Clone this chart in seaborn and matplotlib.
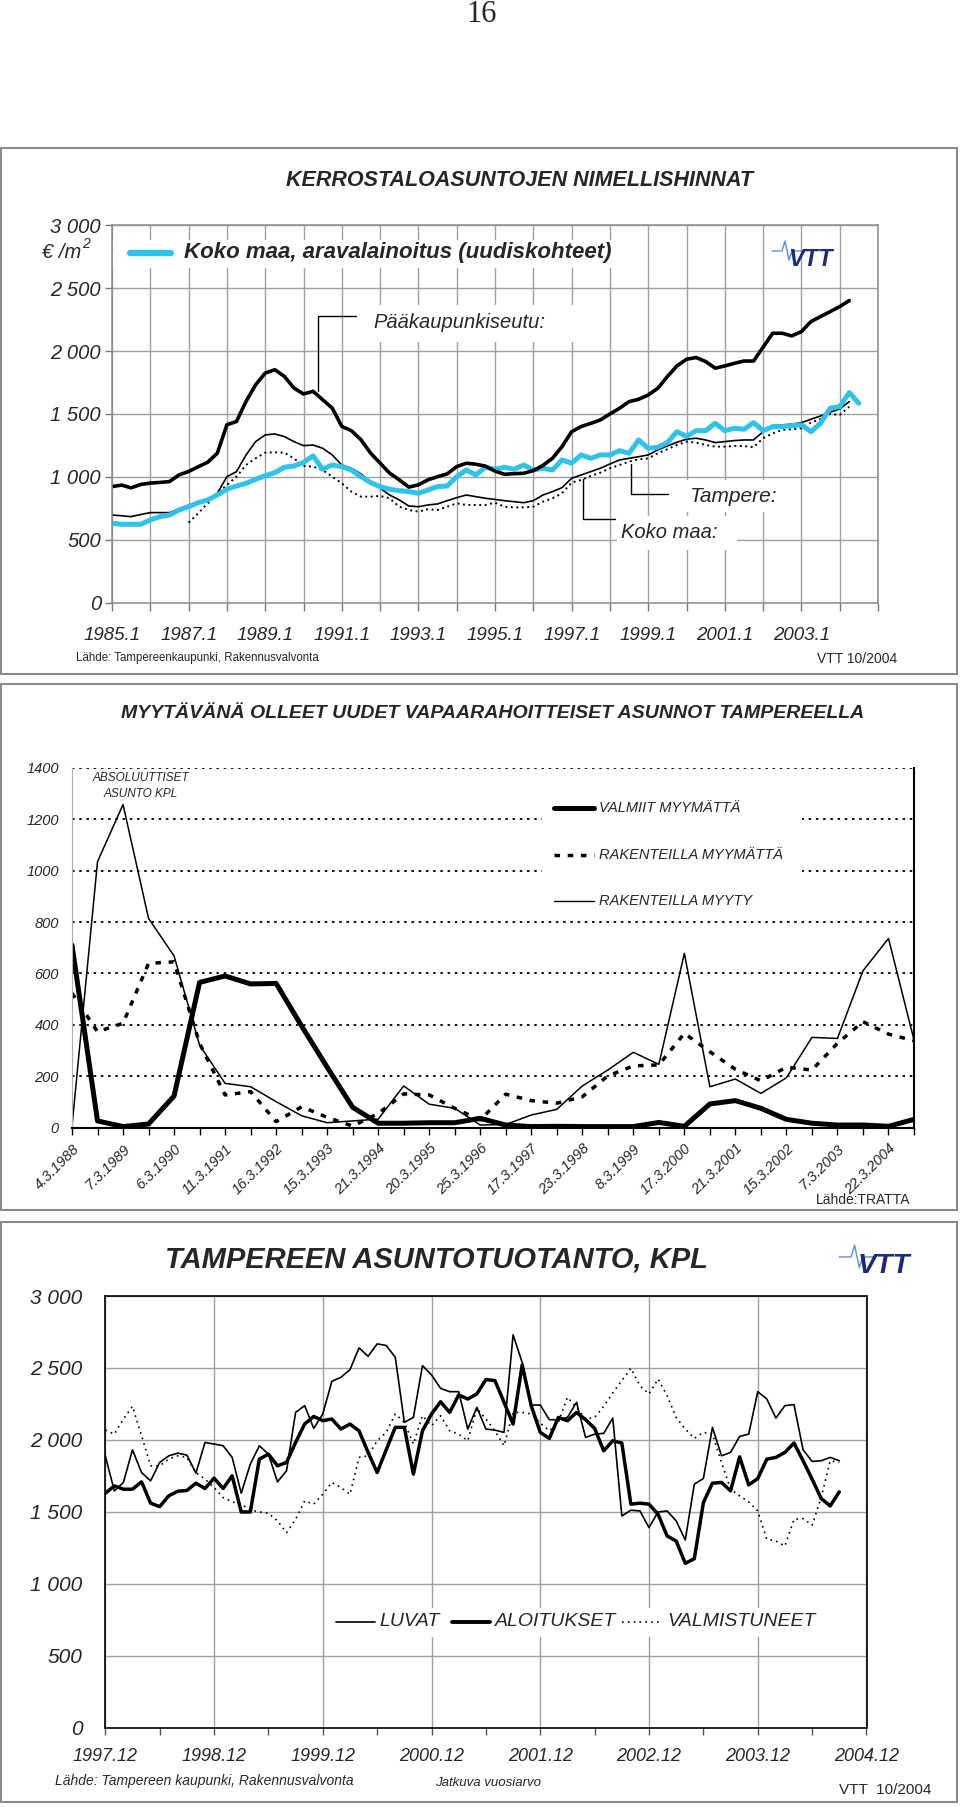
import matplotlib
matplotlib.use("Agg")
import matplotlib.pyplot as plt
import seaborn as sns
from matplotlib.lines import Line2D
from matplotlib.patches import Rectangle

# ---------------- top chart: quarterly prices, first quarter 1985.1 ----------------
pks_val = [922, 934, 912, 939, 950, 955, 962, 1015, 1042, 1080, 1116, 1188,
           1414, 1440, 1600, 1732, 1825, 1852, 1799, 1706, 1659, 1680, 1613, 1547,
           1401, 1367, 1295, 1189, 1109, 1029, 976, 918, 936, 976, 1001, 1023,
           1081, 1108, 1100, 1085, 1045, 1020, 1025, 1028, 1049, 1090, 1147, 1240,
           1359, 1400, 1425, 1452, 1500, 1545, 1598, 1617, 1651, 1704, 1797, 1882,
           1935, 1949, 1917, 1864, 1882, 1903, 1921, 1921, 2031, 2142, 2142, 2121,
           2155, 2235, 2275, 2314, 2354, 2402]
tre_val = [696, 690, 683, 700, 715, 715, 715, 745, 776, 800, 816, 869,
           1001, 1041, 1174, 1280, 1333, 1341, 1320, 1280, 1248, 1253, 1227, 1174,
           1094, 1068, 1023, 961, 909, 855, 816, 768, 762, 776, 784, 810,
           834, 855, 842, 829, 820, 810, 802, 794, 810, 855, 882, 914,
           988, 1015, 1041, 1068, 1102, 1134, 1147, 1160, 1174, 1214, 1245, 1275,
           1299, 1307, 1293, 1272, 1280, 1288, 1293, 1293, 1359, 1407, 1413, 1418,
           1431, 1458, 1484, 1513, 1540, 1598]
# Koko maa starts 1987.1
km_val = [635, 710, 789, 869, 935, 1001, 1094, 1147, 1192, 1195, 1192, 1147,
          1086, 1081, 1054, 1001, 948, 882, 842, 842, 848, 829, 762, 736,
          723, 742, 736, 762, 789, 776, 776, 776, 794, 762, 757, 757,
          762, 802, 829, 869, 954, 975, 1007, 1033, 1068, 1094, 1121, 1139,
          1147, 1187, 1219, 1253, 1280, 1272, 1253, 1240, 1240, 1245, 1245, 1235,
          1307, 1346, 1373, 1378, 1386, 1431, 1460, 1500, 1492, 1558]
ara_val = [630, 622, 622, 622, 657, 683, 696, 736, 762, 794, 816, 855,
           901, 927, 948, 980, 1009, 1033, 1076, 1086, 1113, 1166, 1060, 1094,
           1081, 1054, 1001, 954, 922, 901, 890, 882, 869, 895, 922, 927,
           1001, 1054, 1015, 1076, 1060, 1076, 1060, 1094, 1054, 1068, 1054, 1134,
           1108, 1174, 1147, 1174, 1174, 1208, 1187, 1293, 1227, 1235, 1272, 1359,
           1320, 1367, 1367, 1426, 1367, 1386, 1378, 1431, 1367, 1399, 1399, 1407,
           1413, 1359, 1426, 1545, 1558, 1670, 1585]
top_xlabels = ["1985.1", "1987.1", "1989.1", "1991.1", "1993.1",
               "1995.1", "1997.1", "1999.1", "2001.1", "2003.1"]
top_ylabels = ["0", "500", "1 000", "1 500", "2 000", "2 500", "3 000"]

# ---------------- middle chart: half-yearly counts ----------------
mid_dates = ["4.3.1988", "7.3.1989", "6.3.1990", "11.3.1991", "16.3.1992", "15.3.1993",
             "21.3.1994", "20.3.1995", "25.3.1996", "17.3.1997", "23.3.1998", "8.3.1999",
             "17.3.2000", "21.3.2001", "15.3.2002", "7.3.2003", "22.3.2004"]
valmiit = [710, 26, 4, 14, 123, 565, 590, 559, 561, 395, 235, 79, 17, 17, 19, 19, 36,
           10, 4, 5, 4, 4, 4, 20, 5, 92, 105, 75, 32, 17, 10, 10, 5, 32]
rak_myymatta = [523, 373, 406, 639, 645, 328, 127, 140, 23, 81, 40, 6, 55, 131, 127, 75, 30,
                130, 105, 95, 120, 201, 240, 244, 367, 295, 227, 182, 235, 224, 328, 412, 364, 338]
rak_myyty = [5, 1035, 1257, 814, 668, 321, 172, 159, 101, 46, 19, 26, 33, 162, 91, 75, 10,
             12, 49, 71, 162, 224, 293, 246, 678, 159, 189, 133, 194, 351, 347, 610, 736, 341]

# ---------------- bottom chart: monthly rolling annual values from 1997.12 ----------------
luvat = [1889, 1645, 1704, 1931, 1773, 1715, 1843, 1889, 1908, 1894,
         1769, 1982, 1971, 1959, 1878, 1629, 1831, 1959, 1901, 1708,
         1785, 2191, 2238, 2080, 2180, 2407, 2435, 2488, 2639, 2581,
         2667, 2656, 2574, 2122, 2156, 2516, 2451, 2358, 2335, 2335,
         2075, 2226, 2075, 2068, 2052, 2730, 2539, 2242, 2242, 2140,
         2140, 2156, 2261, 2017, 2040, 2045, 2152, 1471, 1511, 1506,
         1390, 1499, 1506, 1437, 1304, 1692, 1731, 2087, 1889, 1913,
         2024, 2040, 2335, 2284, 2152, 2238, 2245, 1931, 1850, 1855,
         1878, 1855]
aloitukset = [1629, 1680, 1657, 1657, 1708, 1560, 1536, 1611, 1643, 1648,
              1699, 1662, 1734, 1662, 1750, 1499, 1499, 1866, 1901, 1820,
              1843, 1982, 2110, 2163, 2133, 2145, 2075, 2110, 2063, 1913,
              1773, 1931, 2087, 2087, 1762, 2063, 2180, 2265, 2191, 2312,
              2284, 2319, 2419, 2412, 2261, 2110, 2521, 2238, 2052, 2010,
              2156, 2133, 2191, 2140, 2080, 1924, 1994, 1978, 1553, 1560,
              1553, 1483, 1332, 1297, 1142, 1174, 1564, 1699, 1704, 1646,
              1882, 1687, 1731, 1866, 1878, 1913, 1978, 1855, 1727, 1592,
              1541, 1639]
valmistuneet = [2068, 2040, 2145, 2233, 2029, 1820, 1820, 1866, 1889, 1878,
                1773, 1727, 1669, 1599, 1569, 1553, 1513, 1499, 1490, 1437,
                1355, 1448, 1576, 1553, 1622, 1704, 1669, 1622, 1878, 1889,
                1994, 2052, 2180, 2122, 1971, 2168, 2098, 2168, 2063, 2040,
                1994, 2219, 2145, 2063, 1959, 2191, 2191, 2180, 2117, 2063,
                2122, 2296, 2226, 2145, 2156, 2233, 2326, 2412, 2498, 2377,
                2319, 2423, 2307, 2156, 2075, 2010, 2052, 2040, 1843, 1657,
                1611, 1569, 1506, 1309, 1297, 1262, 1448, 1453, 1407, 1599,
                1855, 1843]
bot_xlabels = ["1997.12", "1998.12", "1999.12", "2000.12", "2001.12",
               "2002.12", "2003.12", "2004.12"]
bot_ylabels = ["0", "500", "1 000", "1 500", "2 000", "2 500", "3 000"]

sns.set_style("white")
plt.rcParams["font.family"] = ["Liberation Sans", "DejaVu Sans"]

W, H = 960, 1807
fig = plt.figure(figsize=(W / 100, H / 100), dpi=100)


def fx(x):
    return x / W


def fy(y):
    return 1 - y / H


def box(x0, y0, x1, y1):
    return [x0 / W, 1 - y1 / H, (x1 - x0) / W, (y1 - y0) / H]


def ftext(x, y, s, **kw):
    kw.setdefault("va", "center")
    kw.setdefault("zorder", 5)
    fig.text(fx(x), fy(y), s, **kw)


def fline(xs, ys, **kw):
    kw.setdefault("zorder", 5)
    fig.add_artist(Line2D([fx(v) for v in xs], [fy(v) for v in ys],
                          transform=fig.transFigure, **kw))


def frect(x0, y0, x1, y1, **kw):
    fig.add_artist(Rectangle((fx(x0), fy(y1)), (x1 - x0) / W, (y1 - y0) / H,
                             transform=fig.transFigure, **kw))


def vtt_logo(x, y, size):
    # small pulse line + VTT letters
    s = size / 17.0
    fline([x - 38 * s, x - 28 * s, x - 25 * s, x - 21 * s, x - 18 * s, x - 8 * s],
          [y - 6 * s, y - 6 * s, y - 16 * s, y + 3 * s, y - 6 * s, y - 6 * s],
          color="#5b8fd6", lw=1.0)
    ftext(x, y + 2 * s, "VTT", fontsize=size, weight="bold", style="italic",
          color="#1b2a7c", ha="center")


ftext(482, 15, "16", fontsize=22, family=["Liberation Serif", "DejaVu Serif"], ha="center")

# panel frames
for y0, y1 in [(147.5, 674), (684, 1210), (1222, 1802)]:
    frect(1, y0, 957, y1, fill=False, ec="#8a8a8a", lw=1.5, zorder=6)

# ======================= TOP =======================
ax1 = fig.add_axes(box(112, 225.4, 878, 602.5))
q = 0.25
sns.lineplot(x=[1987 + q * i for i in range(len(km_val))], y=km_val, ax=ax1,
             color="black", lw=1.4, linestyle=(0, (1, 1.8)), errorbar=None)
sns.lineplot(x=[1985 + q * i for i in range(len(tre_val))], y=tre_val, ax=ax1,
             color="black", lw=1.2, errorbar=None)
sns.lineplot(x=[1985 + q * i for i in range(len(ara_val))], y=ara_val, ax=ax1,
             color="#2fc3ea", lw=3.6, errorbar=None)
sns.lineplot(x=[1985 + q * i for i in range(len(pks_val))], y=pks_val, ax=ax1,
             color="black", lw=2.6, errorbar=None)
ax1.set_xlim(1985, 2005)
ax1.set_ylim(0, 3000)
ax1.set_xticks(range(1985, 2006))
ax1.set_xticklabels([top_xlabels[(y - 1985) // 2] if (y - 1985) % 2 == 0 and y <= 2003 else ""
                     for y in range(1985, 2006)])
ax1.set_yticks(range(0, 3001, 500))
ax1.set_yticklabels(top_ylabels)
ax1.grid(True, color="#a0a0a0", lw=1)
ax1.set_axisbelow(True)
ax1.set_xlabel("")
ax1.set_ylabel("")
ax1.tick_params(axis="x", bottom=True, length=6, width=1, color="#777777", pad=12, labelsize=13.5)
ax1.tick_params(axis="y", left=True, length=5, width=1, color="#777777", pad=3, labelsize=14.5)
for lab in ax1.get_xticklabels() + ax1.get_yticklabels():
    lab.set_fontstyle("italic")
for sp in ax1.spines.values():
    sp.set_color("#8a8a8a")
    sp.set_linewidth(1.1)

ftext(520, 180, "KERROSTALOASUNTOJEN NIMELLISHINNAT", fontsize=15.5, weight="bold",
      style="italic", ha="center")
frect(113, 240, 625, 268, fc="white", ec="none", zorder=4)
fline([130, 171], [253, 253], color="#2fc3ea", lw=4.5)
ftext(184, 253, "Koko maa, aravalainoitus (uudiskohteet)", fontsize=16, weight="bold",
      style="italic")
ftext(42, 253, "€ /m", fontsize=14.5, style="italic")
ftext(82, 244, "2", fontsize=10, style="italic")
vtt_logo(810, 257, 17)

frect(362, 305, 580, 342, fc="white", ec="none", zorder=4)
ftext(373, 322.5, "Pääkaupunkiseutu:", fontsize=14.5, style="italic")
fline([318, 318, 356], [391, 315.6, 315.6], color="black", lw=1)
frect(672, 480, 784, 512, fc="white", ec="none", zorder=4)
ftext(689, 496, "Tampere:", fontsize=15, style="italic")
fline([630.7, 630.7, 667.5], [463.7, 494, 494], color="black", lw=1)
frect(617, 516, 737, 550, fc="white", ec="none", zorder=4)
ftext(621, 533, "Koko maa:", fontsize=14.5, style="italic")
fline([583, 583, 615], [479, 518.8, 518.8], color="black", lw=1)

ftext(76, 658, "Lähde: Tampereenkaupunki, Rakennusvalvonta", fontsize=8.3)
ftext(857, 659, "VTT 10/2004", fontsize=10, ha="center")

# ======================= MIDDLE =======================
ax2 = fig.add_axes(box(72, 767.8, 914, 1127.6))
idx = list(range(len(valmiit)))
sns.lineplot(x=idx, y=rak_myyty, ax=ax2, color="black", lw=1.1, errorbar=None)
sns.lineplot(x=idx, y=rak_myymatta, ax=ax2, color="black", lw=2.5,
             linestyle=(0, (1.6, 2.2)), errorbar=None)
sns.lineplot(x=idx, y=valmiit, ax=ax2, color="black", lw=3.6, errorbar=None)
ax2.set_xlim(0, len(valmiit) - 1)
ax2.set_ylim(0, 1400)
ax2.set_yticks(range(0, 1401, 200))
ax2.yaxis.grid(True, color="black", lw=1.3, linestyle=(0, (1.4, 2.6)))
ax2.xaxis.grid(False)
ax2.set_xticks(idx)
ax2.set_xticklabels([mid_dates[i // 2] if i % 2 == 0 else "" for i in idx],
                    rotation=45, ha="right", rotation_mode="anchor")
ax2.set_xlabel("")
ax2.set_ylabel("")
ax2.tick_params(axis="x", bottom=True, length=5, width=1, color="black", pad=5, labelsize=10.5)
ax2.tick_params(axis="y", left=False, pad=6, labelsize=10.5)
for lab in ax2.get_xticklabels() + ax2.get_yticklabels():
    lab.set_fontstyle("italic")
ax2.spines["top"].set_visible(False)
ax2.spines["left"].set_color("#b0b0b0")
ax2.spines["bottom"].set_color("black")
ax2.spines["bottom"].set_linewidth(1.5)
ax2.spines["right"].set_color("black")
ax2.spines["right"].set_linewidth(1.5)

ftext(493, 714, "MYYTÄVÄNÄ OLLEET UUDET VAPAARAHOITTEISET ASUNNOT TAMPEREELLA",
      fontsize=14, weight="bold", style="italic", ha="center")
ftext(141, 778, "ABSOLUUTTISET", fontsize=8.5, style="italic", ha="center")
ftext(141, 794, "ASUNTO KPL", fontsize=8.5, style="italic", ha="center")
frect(542, 794, 802, 921, fc="white", ec="none", zorder=4)
fline([554, 594], [808, 808], color="black", lw=3.6)
ftext(599, 808, "VALMIIT MYYMÄTTÄ", fontsize=10.5, style="italic")
fline([554, 594], [855, 855], color="black", lw=2.5, linestyle=(0, (1.6, 2.2)))
ftext(599, 855, "RAKENTEILLA MYYMÄTTÄ", fontsize=10.5, style="italic")
fline([554, 594], [901, 901], color="black", lw=1.0)
ftext(599, 901, "RAKENTEILLA MYYTY", fontsize=10.5, style="italic")
ftext(910, 1200, "Lähde:TRATTA", fontsize=10, ha="right")

# ======================= BOTTOM =======================
ax3 = fig.add_axes(box(105.3, 1296, 866.5, 1727.6))
months = list(range(len(luvat)))
sns.lineplot(x=months, y=valmistuneet, ax=ax3, color="black", lw=1.2,
             linestyle=(0, (1, 2.5)), errorbar=None)
sns.lineplot(x=months, y=luvat, ax=ax3, color="black", lw=1.2, errorbar=None)
sns.lineplot(x=months, y=aloitukset, ax=ax3, color="black", lw=2.5, errorbar=None)
ax3.set_xlim(0, 84)
ax3.set_ylim(0, 3000)
ax3.set_xticks(range(0, 85, 12))
ax3.set_xticklabels(bot_xlabels)
ax3.set_xticks(range(6, 85, 12), minor=True)
ax3.set_yticks(range(0, 3001, 500))
ax3.set_yticklabels(bot_ylabels)
ax3.grid(True, which="major", color="#a0a0a0", lw=1)
ax3.set_axisbelow(True)
ax3.set_xlabel("")
ax3.set_ylabel("")
ax3.tick_params(axis="x", which="both", bottom=True, length=5, width=1, color="#555555",
                pad=10, labelsize=13)
ax3.tick_params(axis="y", left=False, pad=13, labelsize=15)
for lab in ax3.get_xticklabels() + ax3.get_yticklabels():
    lab.set_fontstyle("italic")
for sp in ax3.spines.values():
    sp.set_color("black")
    sp.set_linewidth(1.2)

ftext(436, 1259, "TAMPEREEN ASUNTOTUOTANTO, KPL", fontsize=21, weight="bold",
      style="italic", ha="center")
vtt_logo(884, 1264, 20)
frect(330, 1608, 816, 1637, fc="white", ec="none", zorder=4)
fline([335.6, 374.8], [1622, 1622], color="black", lw=1.2)
ftext(379.7, 1622, "LUVAT", fontsize=14, style="italic")
fline([452, 490], [1622, 1622], color="black", lw=2.8)
ftext(495, 1622, "ALOITUKSET", fontsize=14, style="italic")
fline([621.5, 661], [1622, 1622], color="black", lw=1.2, linestyle=(0, (1, 2.5)))
ftext(667.5, 1622, "VALMISTUNEET", fontsize=14, style="italic")

ftext(55, 1781, "Lähde: Tampereen kaupunki, Rakennusvalvonta", fontsize=10, style="italic")
ftext(435, 1783, "Jatkuva vuosiarvo", fontsize=9.5, style="italic")
ftext(839, 1790, "VTT  10/2004", fontsize=11)

fig.savefig("out.png", dpi=100)
